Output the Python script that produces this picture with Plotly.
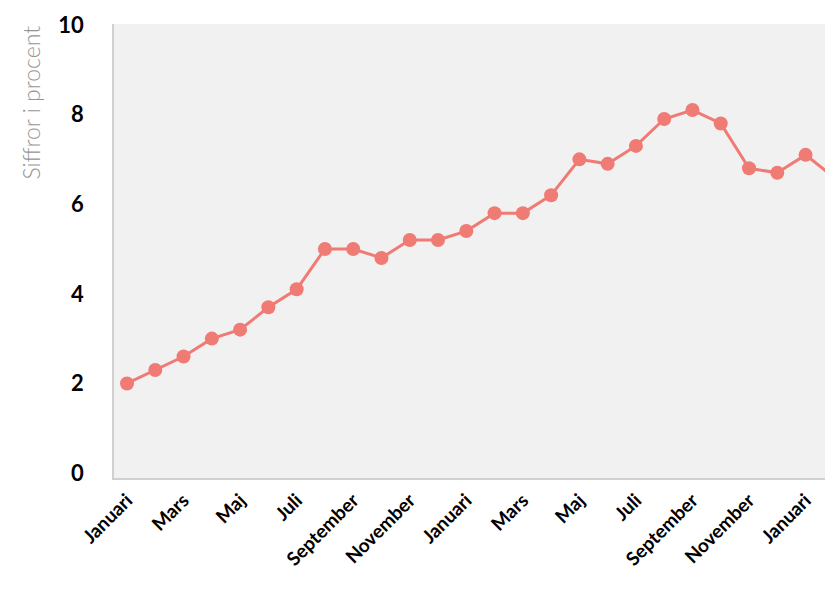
import plotly.graph_objects as go

months = ["Januari", "Februari", "Mars", "April", "Maj", "Juni", "Juli", "Augusti",
          "September", "Oktober", "November", "December",
          "Januari", "Februari", "Mars", "April", "Maj", "Juni", "Juli", "Augusti",
          "September", "Oktober", "November", "December",
          "Januari", "Februari"]
values = [2.0, 2.3, 2.6, 3.0, 3.2, 3.7, 4.1, 5.0, 5.0, 4.8, 5.2, 5.2,
          5.4, 5.8, 5.8, 6.2, 7.0, 6.9, 7.3, 7.9, 8.1, 7.8,
          6.8, 6.7, 7.1, 6.6]
y_ticks = [0, 2, 4, 6, 8, 10]
y_title = "Siffror i procent"

x_idx = list(range(len(months)))
tick_idx = x_idx[::2]
tick_txt = [months[i] for i in tick_idx]

fig = go.Figure()
fig.add_trace(go.Scatter(
    x=x_idx, y=values, mode="lines+markers",
    line=dict(color="#f07a74", width=3),
    marker=dict(color="#f07a74", size=14),
    cliponaxis=False,
    hoverinfo="skip",
))

fig.update_layout(
    width=825, height=589,
    margin=dict(l=106, r=0, t=16, b=119),
    paper_bgcolor="white",
    plot_bgcolor="#f1f1f1",
    showlegend=False,
    font=dict(family="Lato, sans-serif", color="black"),
    xaxis=dict(
        range=[-0.46, 24.97],
        tickmode="array", tickvals=tick_idx, ticktext=tick_txt,
        tickangle=-45,
        tickfont=dict(size=19, family="Lato, sans-serif", weight="bold", color="black"),
        showgrid=False, zeroline=False,
        showline=True, linecolor="#d0d0d0", linewidth=1.5,
        ticks="outside", ticklen=2, tickcolor="rgba(0,0,0,0)",
    ),
    yaxis=dict(
        range=[-0.11, 10.02],
        tickmode="array", tickvals=y_ticks,
        tickfont=dict(size=22, family="Lato, sans-serif", weight="bold", color="black"),
        showgrid=False, zeroline=False,
        showline=True, linecolor="#d0d0d0", linewidth=1.5,
        ticks="outside", ticklen=24, tickcolor="rgba(0,0,0,0)",
    ),
    annotations=[dict(
        text=y_title, textangle=-90,
        xref="paper", yref="paper", x=-0.116, y=1.0,
        xanchor="center", yanchor="top", showarrow=False,
        font=dict(size=23, family="Lato, sans-serif", weight=300, color="#959595"),
    )],
)

fig.write_html("out.html")
